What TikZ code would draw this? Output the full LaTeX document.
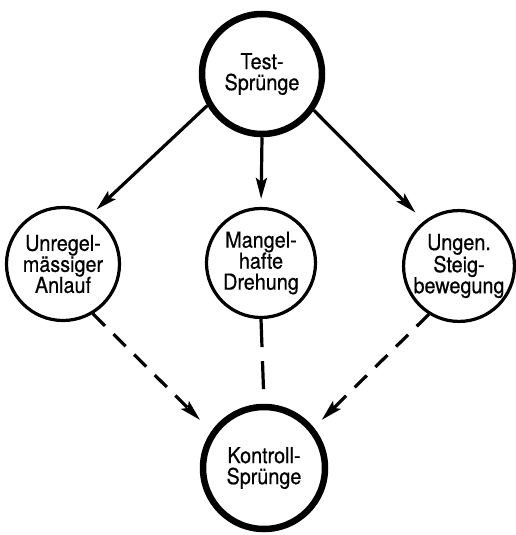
\documentclass[tikz,border=0pt]{standalone}
\usepackage{fontspec}
\setmainfont{TeX Gyre Heros}[FakeStretch=0.9, FakeBold=0.5]
\usetikzlibrary{arrows.meta}
\begin{document}
\begin{tikzpicture}[x=1pt,y=-1pt,
  lab/.style={font=\fontsize{22}{21}\selectfont, align=center},
  thickc/.style={circle, draw, line width=6.5pt, inner sep=0pt, lab},
  thinc/.style={circle, draw, line width=3.2pt, inner sep=0pt, lab},
  tip/.style={-{Stealth[length=21pt,width=11pt,inset=4pt]}},
  solidarr/.style={line width=3.2pt, tip},
  dasharr/.style={line width=3.2pt, dash pattern=on 17pt off 12pt, tip},
]
\useasboundingbox (0,0) rectangle (515,535);
\node[thickc, minimum size=120pt] (top) at (262,74) {Test-\\Sprünge};
\node[thinc, minimum size=113pt] (left) at (63,264) {Unregel-\\mässiger\\Anlauf};
\node[thinc, minimum size=109pt] (mid) at (261,263) {Mangel-\\hafte\\Drehung};
\node[thinc, minimum size=109pt] (right) at (459,266) {Ungen.\\Steig-\\bewegung};
\node[thickc, minimum size=122pt] (bot) at (264,468) {Kontroll-\\Sprünge};

\draw[solidarr, shorten >=6pt] (top.210) -- (left.60);
\draw[solidarr, shorten >=8pt] (top.270) -- (mid.90);
\draw[solidarr, shorten >=12pt] (top.325) -- (right.128);

\draw[dasharr, shorten >=16pt] (left.301) -- (bot.145.5);
\draw[line width=3.2pt, dash pattern=on 28pt off 14pt, shorten >=11pt] (mid.270) -- (bot.90);
\draw[dasharr, shorten >=11pt] (right.238) -- (bot.39.6);
\end{tikzpicture}
\end{document}
